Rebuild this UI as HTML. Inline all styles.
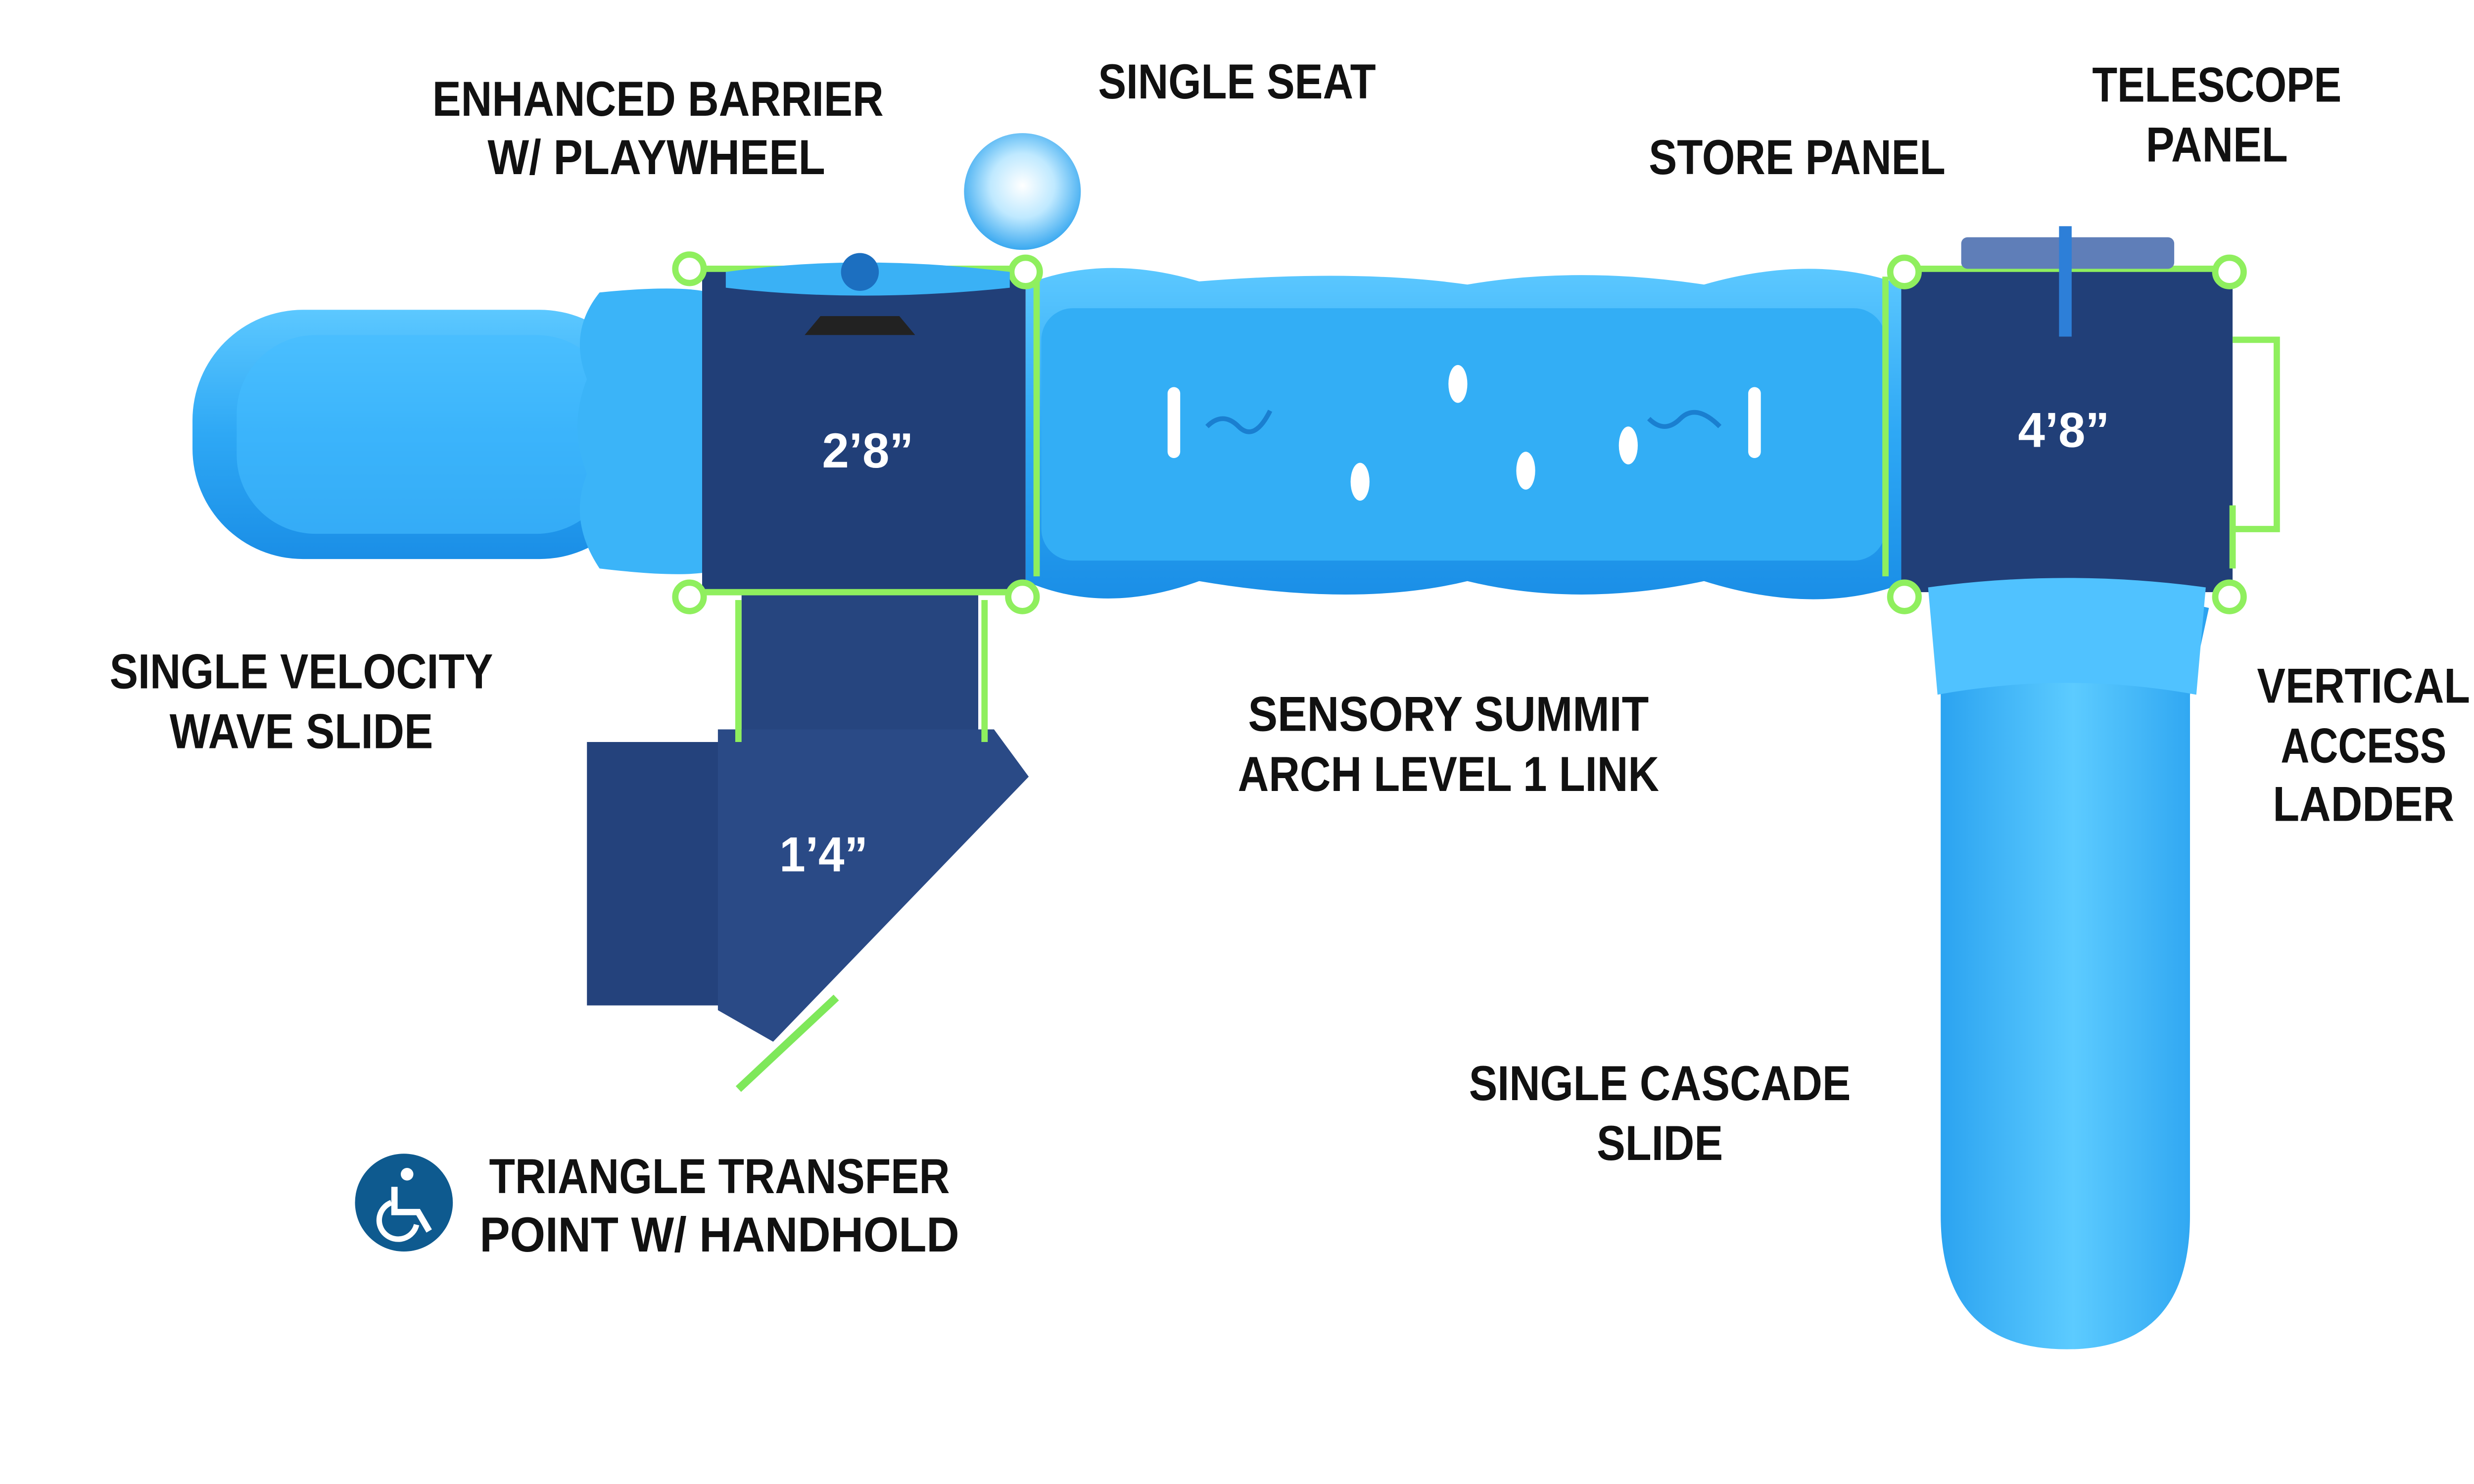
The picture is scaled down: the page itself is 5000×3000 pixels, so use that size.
<!DOCTYPE html>
<html><head><meta charset="utf-8"><style>
html,body{margin:0;padding:0;background:#fff;}
svg{display:block;}
text{font-family:"Liberation Sans",sans-serif;font-weight:bold;font-size:31px;fill:#111;}
.w{fill:#fff;}
</style></head><body>
<svg width="5000" height="3000" viewBox="0 0 1568 940" xmlns="http://www.w3.org/2000/svg">
<defs>
<linearGradient id="sl" x1="0" y1="0" x2="0" y2="1">
<stop offset="0" stop-color="#5cc8ff"/><stop offset="0.5" stop-color="#2ea8f5"/><stop offset="1" stop-color="#1a8ee6"/></linearGradient>
<linearGradient id="sv" x1="0" y1="0" x2="1" y2="0">
<stop offset="0" stop-color="#2aa2f0"/><stop offset="0.5" stop-color="#5ccbff"/><stop offset="1" stop-color="#2aa2f0"/></linearGradient>
<radialGradient id="ball" cx="0.5" cy="0.45" r="0.55"><stop offset="0" stop-color="#ffffff"/><stop offset="0.5" stop-color="#bfe9ff"/><stop offset="1" stop-color="#3aa9f0"/></radialGradient>
</defs>
<!-- left slide -->
<rect x="122" y="196" width="290" height="158" rx="70" fill="url(#sl)"/>
<rect x="150" y="212" width="240" height="126" rx="50" fill="#45bcff" opacity="0.6"/>
<path d="M380 185 Q430 180 450 185 L450 362 Q430 366 380 360 Q360 330 372 300 Q360 270 372 240 Q360 210 380 185Z" fill="#3bb4f8"/>
<!-- arch link -->
<path d="M650 180 Q700 160 760 178 Q860 170 930 180 Q1000 168 1080 180 Q1150 160 1205 180 L1205 370 Q1150 390 1080 368 Q1000 385 930 368 Q860 385 760 368 Q700 390 650 368Z" fill="url(#sl)"/>
<rect x="660" y="195" width="535" height="160" rx="20" fill="#33aef5"/>
<ellipse cx="862" cy="305" rx="6" ry="12" fill="#fff"/><ellipse cx="924" cy="243" rx="6" ry="12" fill="#fff"/>
<ellipse cx="967" cy="298" rx="6" ry="12" fill="#fff"/><ellipse cx="1032" cy="282" rx="6" ry="12" fill="#fff"/>
<rect x="740" y="245" width="8" height="45" rx="4" fill="#fff"/><rect x="1108" y="245" width="8" height="45" rx="4" fill="#fff"/>
<path d="M765 270 q10 -10 20 0 q10 10 20 -10" stroke="#1a7fd0" stroke-width="3" fill="none"/>
<path d="M1045 265 q10 10 20 0 q10 -10 25 5" stroke="#1a7fd0" stroke-width="3" fill="none"/>
<!-- decks -->
<rect x="445" y="170" width="205" height="205" fill="#213f78"/>
<rect x="1205" y="170" width="210" height="205" fill="#213f78"/>
<!-- right slide -->
<path d="M1228 385 Q1310 365 1400 385 L1388 440 L1388 770 Q1388 855 1310 855 Q1230 855 1230 770 L1230 440Z" fill="url(#sv)"/>
<path d="M1222 372 Q1310 360 1398 372 L1392 440 Q1310 425 1228 440Z" fill="#50c2ff"/>
<!-- transfer -->
<rect x="470" y="377" width="150" height="90" fill="#26457f"/>
<rect x="372" y="470" width="86" height="167" fill="#24427c"/>
<polygon points="455,462 630,462 652,492 490,660 455,640" fill="#2a4a86"/>
<line x1="468" y1="690" x2="530" y2="632" stroke="#7ee85a" stroke-width="5"/>
<!-- green posts/rails -->
<g stroke="#8fef5e" stroke-width="4" fill="none">
<line x1="445" y1="170" x2="650" y2="170"/><line x1="445" y1="375" x2="650" y2="375"/>
<line x1="1205" y1="170" x2="1415" y2="170"/>
<line x1="468" y1="380" x2="468" y2="470"/><line x1="624" y1="380" x2="624" y2="470"/>
<path d="M1415 215 H1443 V335 H1415"/>
<line x1="1415" y1="320" x2="1415" y2="360"/>
<line x1="657" y1="175" x2="657" y2="365"/><line x1="1195" y1="175" x2="1195" y2="365"/>
</g>
<g fill="#fff" stroke="#8fef5e" stroke-width="4">
<circle cx="437" cy="170" r="9"/><circle cx="650" cy="172" r="9"/>
<circle cx="437" cy="378" r="9"/><circle cx="648" cy="378" r="9"/>
<circle cx="1207" cy="172" r="9"/><circle cx="1413" cy="172" r="9"/>
<circle cx="1207" cy="378" r="9"/><circle cx="1413" cy="378" r="9"/>
</g>
<!-- barrier wheel -->
<path d="M460 172 Q545 160 640 172 L640 182 Q545 192 460 182Z" fill="#3ab1f5"/>
<path d="M510 212 L580 212 L570 200 L520 200Z" fill="#222"/>
<circle cx="545" cy="172" r="12" fill="#1c6fc0"/>
<!-- ball -->
<circle cx="648" cy="121" r="37" fill="url(#ball)"/>
<!-- telescope -->
<rect x="1243" y="150" width="135" height="20" rx="4" fill="#5f7eb8"/>
<rect x="1305" y="143" width="8" height="70" fill="#2d7fd8"/>
<!-- wheelchair icon -->
<circle cx="256" cy="762" r="31" fill="#0e5a8f"/>
<circle cx="258" cy="744" r="4" fill="#fff"/>
<path d="M250 752 v16 h15 l7 12" stroke="#fff" stroke-width="4" fill="none"/>
<path d="M248 762 a12 12 0 1 0 16 14" stroke="#fff" stroke-width="3.5" fill="none"/>
<!-- labels -->
<g text-anchor="middle" lengthAdjust="spacingAndGlyphs">
<text x="417" y="73" textLength="286" lengthAdjust="spacingAndGlyphs">ENHANCED BARRIER</text>
<text x="416" y="110" textLength="214" lengthAdjust="spacingAndGlyphs">W/ PLAYWHEEL</text>
<text x="784" y="62" textLength="176" lengthAdjust="spacingAndGlyphs">SINGLE SEAT</text>
<text x="1139" y="110" textLength="188" lengthAdjust="spacingAndGlyphs">STORE PANEL</text>
<text x="1405" y="64" textLength="158" lengthAdjust="spacingAndGlyphs">TELESCOPE</text>
<text x="1405" y="102" textLength="90" lengthAdjust="spacingAndGlyphs">PANEL</text>
<text x="191" y="436" textLength="243" lengthAdjust="spacingAndGlyphs">SINGLE VELOCITY</text>
<text x="191" y="474" textLength="167" lengthAdjust="spacingAndGlyphs">WAVE SLIDE</text>
<text x="918" y="463" textLength="254" lengthAdjust="spacingAndGlyphs">SENSORY SUMMIT</text>
<text x="918" y="501" textLength="267" lengthAdjust="spacingAndGlyphs">ARCH LEVEL 1 LINK</text>
<text x="1498" y="445" textLength="135" lengthAdjust="spacingAndGlyphs">VERTICAL</text>
<text x="1498" y="483" textLength="105" lengthAdjust="spacingAndGlyphs">ACCESS</text>
<text x="1498" y="520" textLength="115" lengthAdjust="spacingAndGlyphs">LADDER</text>
<text x="1052" y="697" textLength="242" lengthAdjust="spacingAndGlyphs">SINGLE CASCADE</text>
<text x="1052" y="735" textLength="80" lengthAdjust="spacingAndGlyphs">SLIDE</text>
<text x="456" y="756" textLength="292" lengthAdjust="spacingAndGlyphs">TRIANGLE TRANSFER</text>
<text x="456" y="793" textLength="304" lengthAdjust="spacingAndGlyphs">POINT W/ HANDHOLD</text>
<text class="w" x="550" y="296" textLength="58" lengthAdjust="spacingAndGlyphs">2’8”</text>
<text class="w" x="1308" y="283" textLength="58" lengthAdjust="spacingAndGlyphs">4’8”</text>
<text class="w" x="522" y="552" textLength="56" lengthAdjust="spacingAndGlyphs">1’4”</text>
</g>
</svg>
</body></html>
